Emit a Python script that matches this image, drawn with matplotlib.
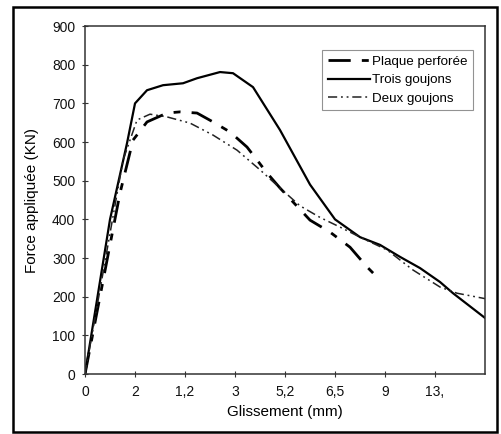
import matplotlib.pyplot as plt
from matplotlib.patches import Rectangle

plt.rcParams['font.family'] = ['Liberation Sans', 'DejaVu Sans']

# x tick labels sit at equal spacing (the axis is really an index axis)
x_ticklabels = ['0', '2', '1,2', '3', '5,2', '6,5', '9', '13,']
y_ticks = [0, 100, 200, 300, 400, 500, 600, 700, 800, 900]

# Plaque perforée (dashed)
plaque_x = [0, 0.7, 0.96, 1.24, 1.64, 1.9, 2.24, 2.56, 2.9, 3.24, 3.64, 3.9,
            4.5, 4.9, 5.3, 5.64, 5.9]
plaque_y = [0, 468, 605, 652, 675, 678, 675, 652, 626, 587, 520, 481,
            398, 367, 328, 277, 243]

# Trois goujons (solid)
trois_x = [0, 0.5, 0.84, 1.0, 1.24, 1.56, 1.96, 2.24, 2.7, 2.96, 3.36, 3.9,
           4.5, 5.0, 5.5, 5.9, 6.3, 6.7, 7.1, 7.36, 8.0]
trois_y = [0, 400, 597, 700, 734, 747, 752, 765, 781, 778, 742, 631,
           490, 400, 354, 334, 303, 274, 238, 209, 145]

# Deux goujons (dash-dot-dot)
deux_x = [0, 0.76, 1.04, 1.3, 1.64, 2.1, 2.56, 3.04, 3.5, 3.9, 4.3, 4.7,
          5.1, 5.5, 6.04, 6.56, 7.1, 7.44, 8.0]
deux_y = [0, 553, 657, 672, 665, 649, 618, 579, 528, 481, 435, 405,
          380, 354, 321, 269, 225, 209, 195]

fig = plt.figure(figsize=(5.01, 4.34), dpi=100)
ax = fig.add_axes([0.1697, 0.1382, 0.7984, 0.8018])

ax.plot(plaque_x, plaque_y, color='black', lw=2.0,
        dashes=(8, 4, 2.5, 4), label='Plaque perforée')
ax.plot(trois_x, trois_y, color='black', lw=1.6, label='Trois goujons')
ax.plot(deux_x, deux_y, color='#222222', lw=1.1,
        dashes=(6, 2.5, 1.2, 2.5, 1.2, 2.5), label='Deux goujons')

ax.set_xlim(0, 8)
ax.set_ylim(0, 900)
ax.set_xticks(range(len(x_ticklabels)))
ax.set_xticklabels(x_ticklabels)
ax.set_yticks(y_ticks)
ax.tick_params(direction='inout', length=4, width=0.8, labelsize=10,
               colors='#333333', labelcolor='#111111')
ax.tick_params(axis='y', pad=5)
ax.tick_params(axis='x', pad=6)
for s in ax.spines.values():
    s.set_color('#333333')
    s.set_linewidth(1.1)

ax.set_xlabel('Glissement (mm)', fontsize=11, labelpad=4)
ax.set_ylabel('Force appliquée (KN)', fontsize=11, labelpad=9)

leg = ax.legend(loc='upper right', bbox_to_anchor=(0.97, 0.93),
                fontsize=9.6, frameon=True, fancybox=False,
                handlelength=3.2, handletextpad=0.15, borderpad=0.4,
                labelspacing=0.45, borderaxespad=0)
leg.get_frame().set_edgecolor('#777777')
leg.get_frame().set_linewidth(0.8)

# outer frame around the whole picture
fig.patches.append(Rectangle((13 / 501, 2 / 434), 484 / 501, 425 / 434,
                             transform=fig.transFigure, fill=False,
                             edgecolor='black', lw=1.8))

fig.savefig('out.png', dpi=100)
